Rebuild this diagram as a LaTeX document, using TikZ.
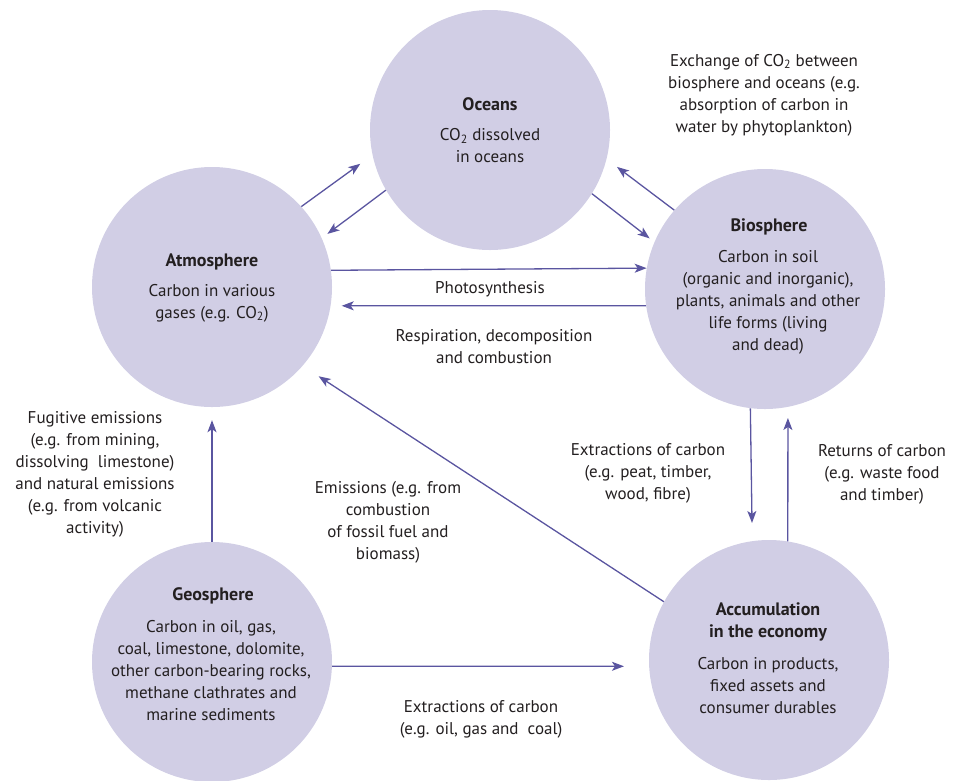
\documentclass[tikz,border=0pt]{standalone}
\usepackage{fontspec}
\setmainfont{PT Sans}
\usepackage{tikz}
\usetikzlibrary{arrows.meta}
\definecolor{poolfill}{HTML}{D1CEE5}
\definecolor{flowline}{HTML}{5A55A0}
\definecolor{inktext}{HTML}{231F20}
\tikzset{
  pool/.style = {circle, fill=poolfill, minimum size=240pt, inner sep=0pt},
  pooltext/.style = {align=center, inner sep=0pt, text=inktext,
    font=\fontsize{17}{22}\selectfont},
  pooltitle/.style = {pooltext, font=\fontsize{18}{22}\selectfont\bfseries},
  flowlabel/.style = {pooltext},
  flow/.style = {draw=flowline, line width=1.3pt,
    -{Stealth[length=12pt,width=9pt,inset=3pt]}}
}

\begin{document}
\begin{tikzpicture}[x=1pt,y=-1pt]
\useasboundingbox (0,0) rectangle (955,780);
% carbon pools
\node [pool] (oc)  at (490,130) {};
\node [pool] (atm) at (212,287) {};
\node [pool] (bio) at (765,289) {};
\node [pool] (geo) at (212,662) {};
\node [pool] (acc) at (769,660) {};

\node [pooltitle] (oct) at (490,104) {Oceans};
\node [pooltext] (ocb) at (490,146) {CO\textsubscript{2} dissolved\\in oceans};
\node [pooltitle] (atmt) at (212,262) {Atmosphere};
\node [pooltext] (atmb) at (212,303) {Carbon in various\\gases (e.g. CO\textsubscript{2})};
\node [pooltitle] (biot) at (769,227) {Biosphere};
\node [pooltext] (biob) at (768,302) {Carbon in soil\\(organic and inorganic),\\plants, animals and other\\life forms (living\\and dead)};
\node [pooltitle] (geot) at (213,596) {Geosphere};
\node [pooltext] (geob) at (211,671) {Carbon in oil, gas,\\coal, limestone, dolomite,\\other carbon-bearing rocks,\\methane clathrates and\\marine sediments};
\node [pooltitle] (acct) at (768,622) {Accumulation\\in the economy};
\node [pooltext] (accb) at (768,686) {Carbon in products,\\fixed assets and\\consumer durables};

% flow labels
\node [flowlabel] (exch) at (764,95) {Exchange of CO\textsubscript{2} between\\biosphere and oceans (e.g.\\absorption of carbon in\\water by phytoplankton)};
\node [flowlabel] (photo) at (490,289) {Photosynthesis};
\node [flowlabel] (resp) at (494,347) {Respiration, decomposition\\and combustion};
\node [flowlabel] (fugi) at (95,474) {Fugitive emissions\\(e.g. from mining,\\dissolving\ \ limestone)\\and natural emissions\\(e.g. from volcanic\\activity)};
\node [flowlabel] (emis) at (388,522) {Emissions (e.g. from\\combustion\\of fossil fuel and\\biomass)};
\node [flowlabel] (extr) at (648,473) {Extractions of carbon\\(e.g. peat, timber,\\wood, fibre)};
\node [flowlabel] (retn) at (882,474) {Returns of carbon\\(e.g. waste food\\and timber)};
\node [flowlabel] (extg) at (481,719) {Extractions of carbon\\(e.g. oil, gas and\ \ coal)};

% carbon flows
\draw [flow, shorten >=15pt] (atm.42) -- (oc.192);
\draw [flow, shorten >=7pt] (oc.210) -- (atm.24.5);
\draw [flow, shorten >=6pt] (oc.-32.6) -- (bio.157);
\draw [flow, shorten >=13pt] (bio.139.5) -- (oc.-14.5);
\draw [flow] (atm.8.6) -- (bio.170.4);
\draw [flow, shorten >=11pt] (bio.188.1) -- (atm.-9.1);
\draw [flow, shorten >=18pt] (bio.263.3) -- (acc.98.8);
\draw [flow, shorten >=11pt] (acc.81.2) -- (bio.281);
\draw [flow, shorten >=13pt] (geo.90) -- (atm.270);
\draw [flow, shorten >=19pt] (acc.151.8) -- (atm.-41.5);
\draw [flow, shorten >=25pt] (geo.-2.4) -- (acc.183.3);
\end{tikzpicture}
\end{document}
